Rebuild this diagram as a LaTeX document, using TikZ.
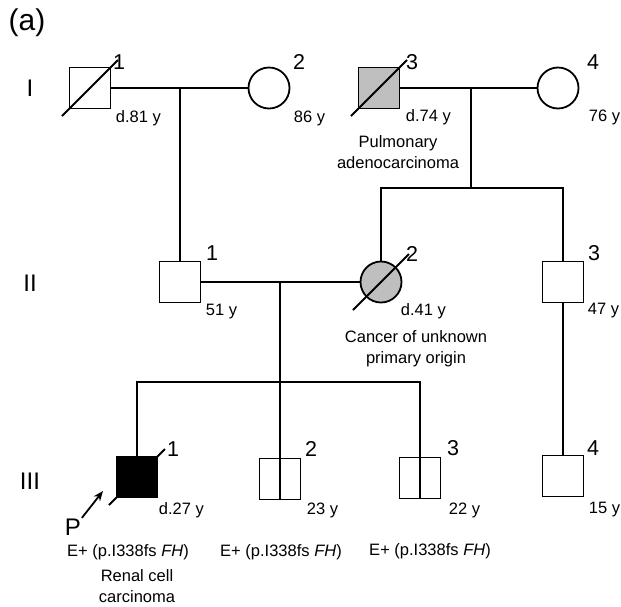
\documentclass[tikz,border=0pt]{standalone}
\usepackage{fontspec}
\setmainfont{Liberation Sans}
\usetikzlibrary{arrows.meta}

\begin{document}
\begin{tikzpicture}[
    x=1pt, y=-1pt,
    line width=1.8pt,
    >={Stealth[length=10pt,width=8pt]},
    male/.style   = {rectangle, draw, fill=white,
                     minimum size=41pt, inner sep=0pt},
    female/.style = {circle, draw, fill=white,
                     minimum size=41pt, inner sep=0pt},
    aff/.style    = {fill=black},
    part/.style   = {fill=black!25},
    num/.style    = {font=\fontsize{21.5}{21.5}\selectfont, inner sep=0pt},
    age/.style    = {anchor=west, font=\fontsize{16.5}{20}\selectfont,
                     inner sep=0pt},
    note/.style   = {align=center, font=\fontsize{16.5}{21}\selectfont,
                     inner sep=0pt},
    gen/.style    = {font=\fontsize{24}{24}\selectfont, inner sep=0pt},
  ]
  \useasboundingbox (0,0) rectangle (621,606);
  \node[font=\fontsize{30}{30}\selectfont, inner sep=0pt] (tag) at (27,23) {(a)};
  % generation labels
  \node[gen] (gI)   at (30,88)  {I};
  \node[gen] (gII)  at (30,283) {II};
  \node[gen] (gIII) at (30,481) {III};
  % generation I
  \node[male]         (I1) at (90,88)  {};
  \node[female]       (I2) at (269,88) {};
  \node[male, part]   (I3) at (379,88) {};
  \node[female]       (I4) at (558,88) {};
  % generation II
  \node[male]         (II1) at (180,282) {};
  \node[female, part] (II2) at (381,282) {};
  \node[male]         (II3) at (563,282) {};
  % generation III
  \node[male, aff] (III1) at (137,477) {};
  \node[male]      (III2) at (280,479) {};
  \node[male]      (III3) at (420,478) {};
  \node[male]      (III4) at (563,476) {};
  % junctions
  \coordinate (m1) at (180,88);
  \coordinate (m2) at (471,88);
  \coordinate (s2) at (471,188);
  \coordinate (m3) at (280,282);
  \coordinate (s3) at (280,382);
  % marriage and sibship lines
  \draw (I1) -- (I2);
  \draw (I3) -- (I4);
  \draw (m1) -- (II1);
  \draw (m2) -- (s2);
  \draw (II2.north) |- (s2) -| (II3.north);
  \draw (II1) -- (II2);
  \draw (m3) -- (s3);
  \draw (III1.north) |- (s3) -| (III3.north);
  \draw (s3) -- (III2.south);
  \draw (III3.north) -- (III3.south);
  \draw (II3) -- (III4);
  % deceased
  \foreach \n in {I1,I3,II2,III1}
    \draw ([shift={(-28pt,-28pt)}]\n.center) -- ([shift={(28pt,28pt)}]\n.center);
  % numbers
  \node[num] (nI1)   at (119,62)  {1};
  \node[num] (nI2)   at (299,62)  {2};
  \node[num] (nI3)   at (412,62)  {3};
  \node[num] (nI4)   at (593,62)  {4};
  \node[num] (nII1)  at (212,253) {1};
  \node[num] (nII2)  at (412,254) {2};
  \node[num] (nII3)  at (594,253) {3};
  \node[num] (nIII1) at (173,449) {1};
  \node[num] (nIII2) at (311,449) {2};
  \node[num] (nIII3) at (453,448) {3};
  \node[num] (nIII4) at (593,448) {4};
  % ages
  \node[age] (aI1)   at (115,118) {d.81 y};
  \node[age] (aI2)   at (293,118) {86 y};
  \node[age] (aI3)   at (405,117) {d.74 y};
  \node[age] (aI4)   at (588,117) {76 y};
  \node[age] (aII1)  at (205,312) {51 y};
  \node[age] (aII2)  at (400,311) {d.41 y};
  \node[age] (aII3)  at (587,311) {47 y};
  \node[age] (aIII1) at (158,510) {d.27 y};
  \node[age] (aIII2) at (306,510) {23 y};
  \node[age] (aIII3) at (448,510) {22 y};
  \node[age] (aIII4) at (588,510) {15 y};
  % notes
  \node[note] (dxI3)   at (398,152) {Pulmonary\\adenocarcinoma};
  \node[note] (dxII2)  at (416,349) {Cancer of unknown\\primary origin};
  \node[note] (gtIII1) at (128,552) {E+ (p.I338fs \textit{FH})};
  \node[note] (gtIII2) at (281,552) {E+ (p.I338fs \textit{FH})};
  \node[note] (gtIII3) at (430,551) {E+ (p.I338fs \textit{FH})};
  \node[note] (dxIII1) at (137,586) {Renal cell\\carcinoma};
  % proband
  \node[gen] (P) at (73,527) {P};
  \coordinate (ptip) at (103,491);
  \draw[->] (P.north east) -- (ptip);
\end{tikzpicture}
\end{document}
